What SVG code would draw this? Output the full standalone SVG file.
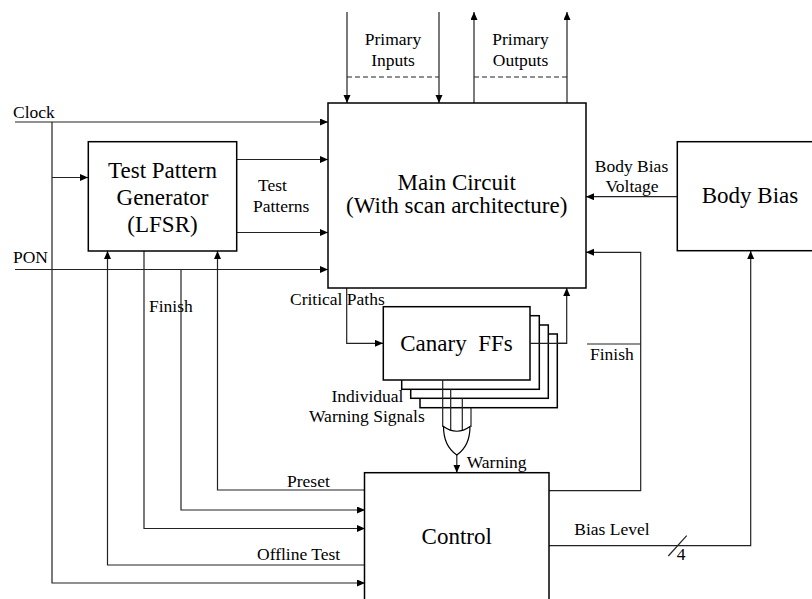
<svg xmlns="http://www.w3.org/2000/svg" width="812" height="599" viewBox="0 0 812 599">
<style>
text{font-family:"Liberation Serif","Times New Roman",serif;fill:#000}
.s{font-size:17.5px}
.b{font-size:23px;text-anchor:middle}
.m{text-anchor:middle}
.box{fill:#fff;stroke:#000;stroke-width:1.5}
.ln{fill:none;stroke:#222;stroke-width:1.2}
.ar{marker-end:url(#ah)}
.dash{fill:none;stroke:#222;stroke-width:1.2;stroke-dasharray:5 3}
</style>
<defs>
<marker id="ah" markerUnits="userSpaceOnUse" markerWidth="9" markerHeight="8" refX="8" refY="3.5" orient="auto">
<path d="M0,0 L8,3.5 L0,7 z" fill="#000"/>
</marker>
</defs>
<g id="connectors">
<path class="ln ar" d="M347,12 V103"/>
<path class="ln ar" d="M439,12 V103"/>
<path class="ln ar" d="M474,103 V12"/>
<path class="ln ar" d="M567,103 V12"/>
<path class="dash" d="M347,77 H439"/>
<path class="dash" d="M474,77 H567"/>
<path class="ln ar" d="M15,122 H328"/>
<path class="ln ar" d="M52,122 V583 H365"/>
<path class="ln ar" d="M52,177.5 H88"/>
<path class="ln ar" d="M237,159.5 H328"/>
<path class="ln ar" d="M237,232.5 H328"/>
<path class="ln ar" d="M15,269.5 H328"/>
<path class="ln ar" d="M181,269.5 V510 H365"/>
<path class="ln ar" d="M144,251 V528.5 H365"/>
<path class="ln ar" d="M365,565 H107.5 V251"/>
<path class="ln ar" d="M365,490 H217.5 V251"/>
<path class="ln ar" d="M346.7,288 V343.3 H383"/>
<path class="ln ar" d="M530,343.3 H566.7 V288"/>
<path class="ln ar" d="M549,490.7 H640.7 V252.3 H586"/>
<path class="ln" d="M587,344 H640.7"/>
<path class="ln ar" d="M677,196.7 H586"/>
<path class="ln ar" d="M549,545.7 H750.7 V251"/>
<path class="ln" d="M668.3,556 L686.7,535.7"/>
<path class="ln ar" d="M456.8,455 V472.7"/>
</g>
<g id="main-circuit">
<rect class="box" x="328" y="103" width="258" height="185"/>
<text class="b" x="456.7" y="190">Main Circuit</text>
<text class="b" x="456.7" y="213">(With scan architecture)</text>
</g>
<g id="tpg">
<rect class="box" x="88.3" y="141.7" width="148.4" height="109.3"/>
<text class="b" x="162.5" y="177.5">Test Pattern</text>
<text class="b" x="162.5" y="204.5">Generator</text>
<text class="b" x="162.5" y="231.5">(LFSR)</text>
</g>
<g id="body-bias">
<rect class="box" x="677.3" y="141.7" width="150" height="109"/>
<text class="b" x="750" y="203.3">Body Bias</text>
</g>
<g id="canary-ffs">
<rect class="box" x="420" y="334" width="137.3" height="73.7"/>
<rect class="box" x="410.7" y="325" width="137.6" height="73.3"/>
<rect class="box" x="401.7" y="315.7" width="137.6" height="73.6"/>
<rect class="box" x="383.3" y="306.7" width="146.7" height="73.3"/>
<text class="b" x="456.5" y="350.7" xml:space="preserve">Canary  FFs</text>
<path class="ln" d="M530,343.3 H566.7"/>
</g>
<g id="or-gate">
<path class="ln" d="M442.7,380 V427 M450.7,389.3 V430.5 M462.3,398.3 V430.5 M471,407.7 V427"/>
<path fill="#fff" stroke="#000" stroke-width="1.2" d="M443.5,426.5 Q456.8,436 470,426.5 Q470,446 456.8,455 Q443.5,446 443.5,426.5 z"/>
</g>
<g id="control">
<rect class="box" x="364.5" y="472.7" width="184.5" height="140"/>
<text class="b" x="456.7" y="544">Control</text>
</g>
<g id="labels">
<text class="s m" x="393" y="45">Primary</text>
<text class="s m" x="393" y="66">Inputs</text>
<text class="s m" x="520.5" y="45">Primary</text>
<text class="s m" x="520.5" y="66">Outputs</text>
<text class="s" x="13" y="118.3">Clock</text>
<text class="s" x="13" y="263.3">PON</text>
<text class="s" x="258" y="191">Test</text>
<text class="s" x="253" y="211.7">Patterns</text>
<text class="s m" x="631.5" y="171.7">Body Bias</text>
<text class="s m" x="632" y="191.7">Voltage</text>
<text class="s" x="149" y="312">Finish</text>
<text class="s" x="290" y="305">Critical Paths</text>
<text class="s" x="590" y="360">Finish</text>
<text class="s" x="331.5" y="401.7">Individual</text>
<text class="s" x="309" y="421.7">Warning Signals</text>
<text class="s" x="466.7" y="468">Warning</text>
<text class="s" x="287" y="487">Preset</text>
<text class="s" x="257" y="560">Offline Test</text>
<text class="s" x="574.3" y="535">Bias Level</text>
<text class="s" x="676.7" y="560">4</text>
</g>
</svg>
